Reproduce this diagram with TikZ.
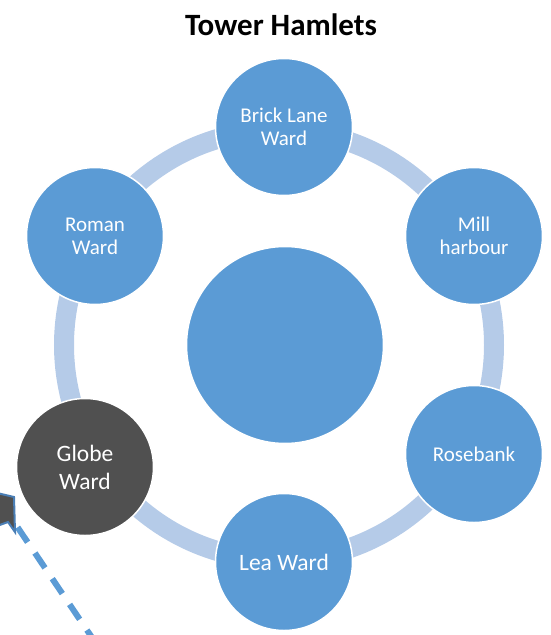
\documentclass[tikz,border=0pt]{standalone}
\usepackage{fontspec}
\setmainfont{Carlito}
\definecolor{wardblue}{HTML}{5B9BD5}
\definecolor{ringblue}{HTML}{B5CBE8}
\definecolor{wardgray}{HTML}{505050}
\definecolor{arrowedge}{HTML}{4A7EB5}
\begin{document}
\begin{tikzpicture}[x=1pt,y=-1pt,
  ward/.style={circle, fill=wardblue, draw=white, line width=1.5pt,
    minimum size=137pt, inner sep=0pt, align=center, text=white,
    font=\fontsize{21}{23}\selectfont},
  bigward/.style={ward, font=\fontsize{23.5}{28}\selectfont},
  hub/.style={ward, minimum size=197pt},
  ring/.style={draw=ringblue, line width=20pt},
  dashedlink/.style={draw=wardblue, line width=6pt, dash pattern=on 18pt off 13pt}]
\useasboundingbox (0,0) rectangle (551,635);
\clip (0,0) rectangle (551,635);

% connecting ring behind the wards
\coordinate (ringc) at (279,345);
\draw[ring] (ringc) circle[radius=215];

% title
\node[font=\bfseries\fontsize{31}{37}\selectfont, anchor=base] (title) at (281,35) {Tower Hamlets};

% centre and wards
\node[hub] (hub) at (285,345) {};
\node[ward] (brick) at (284,127) {Brick Lane\\Ward};
\node[ward] (mill) at (474,236) {Mill\\harbour};
\node[ward] (rose) at (474,454) {Rosebank};
\node[bigward] (lea) at (284,562) {Lea Ward};
\node[ward] (roman) at (95,236) {Roman\\Ward};
\node[bigward, fill=wardgray] (globe) at (85,467) {Globe\\Ward};

% dashed pointer arrow
\coordinate (tail) at (97,645);
\coordinate (tip) at (12,519);
\draw[dashedlink] (tail) -- (tip);
\filldraw[fill=wardgray, draw=arrowedge, line width=2pt]
  (-3,493) -- (14,497) -- (15,532) -- (8,522) -- (-3,526) -- cycle;
\end{tikzpicture}
\end{document}
